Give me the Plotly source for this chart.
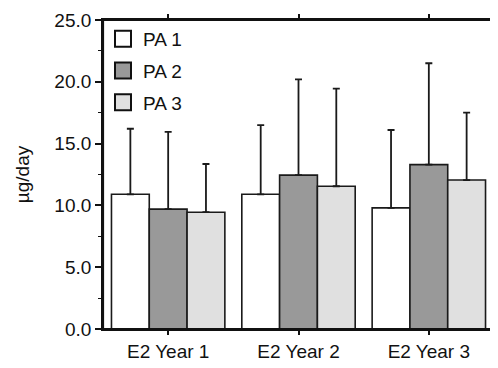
import plotly.graph_objects as go

categories = ["E2 Year 1", "E2 Year 2", "E2 Year 3"]
series_names = ["PA 1", "PA 2", "PA 3"]
pa1_mean = [10.9, 10.9, 9.8]
pa2_mean = [9.7, 12.45, 13.3]
pa3_mean = [9.45, 11.55, 12.05]
pa1_upper = [16.2, 16.5, 16.1]
pa2_upper = [15.95, 20.2, 21.5]
pa3_upper = [13.35, 19.45, 17.5]
fill_colors = ["#ffffff", "#999999", "#e0e0e0"]
y_ticks = [0, 5, 10, 15, 20, 25]

means = [pa1_mean, pa2_mean, pa3_mean]
uppers = [pa1_upper, pa2_upper, pa3_upper]

FONT = "Liberation Sans, Arial, sans-serif"

fig = go.Figure()
for name, m, u, c in zip(series_names, means, uppers, fill_colors):
    err = [ui - mi for ui, mi in zip(u, m)]
    fig.add_trace(go.Bar(
        x=categories, y=m, name=name, showlegend=False,
        marker=dict(color=c, line=dict(color="#1a1a1a", width=1.6)),
        error_y=dict(type="data", symmetric=False, array=err,
                     arrayminus=[0] * len(err), color="#1a1a1a",
                     thickness=1.8, width=3.5),
    ))

# legend entries (square swatches)
for i, (name, c) in enumerate(zip(series_names, fill_colors)):
    fig.add_trace(go.Scatter(
        x=[None], y=[None], mode="markers", name=name,
        legendgroup=f"g{i}",
        marker=dict(symbol="square", size=16, color=c,
                    line=dict(color="#111111", width=2)),
    ))

# plot frame
fig.add_shape(type="rect", xref="paper", yref="paper", x0=0, y0=0, x1=1, y1=1,
              line=dict(color="#111111", width=2.2), layer="above")

fig.update_layout(
    width=490, height=360,
    margin=dict(l=95, r=2, t=8, b=39),
    paper_bgcolor="white", plot_bgcolor="white",
    barmode="group", bargap=0.13, bargroupgap=0,
    font=dict(family=FONT, size=19, color="#111111"),
    showlegend=True,
    legend=dict(x=0.0, y=1.0, xanchor="left", yanchor="top",
                bgcolor="rgba(0,0,0,0)", tracegroupgap=4,
                font=dict(family=FONT, size=19, color="#111111"),
                itemsizing="trace"),
    xaxis=dict(range=[-0.5, 2.5], showline=True, linecolor="#111111",
               linewidth=1.8, mirror="ticks", ticks="outside",
               ticklen=4, tickwidth=1.5, tickcolor="#111111",
               showgrid=False, zeroline=False,
               ticklabeloverflow="allow",
               tickfont=dict(family=FONT, size=19)),
    yaxis=dict(range=[0, 25], tickvals=y_ticks, tickformat=".1f",
               showline=True, linecolor="#111111", linewidth=1.8,
               mirror=True, ticks="outside", ticklen=6, tickwidth=1.5,
               tickcolor="#111111", showgrid=False, zeroline=False,
               ticklabeloverflow="allow",
               minor=dict(dtick=2.5, ticks="outside", ticklen=3,
                          tickcolor="#111111", tickwidth=1.2),
               title=dict(text="µg/day", standoff=20,
                          font=dict(family=FONT, size=19)),
               tickfont=dict(family=FONT, size=19)),
)

fig.write_html("out.html")
